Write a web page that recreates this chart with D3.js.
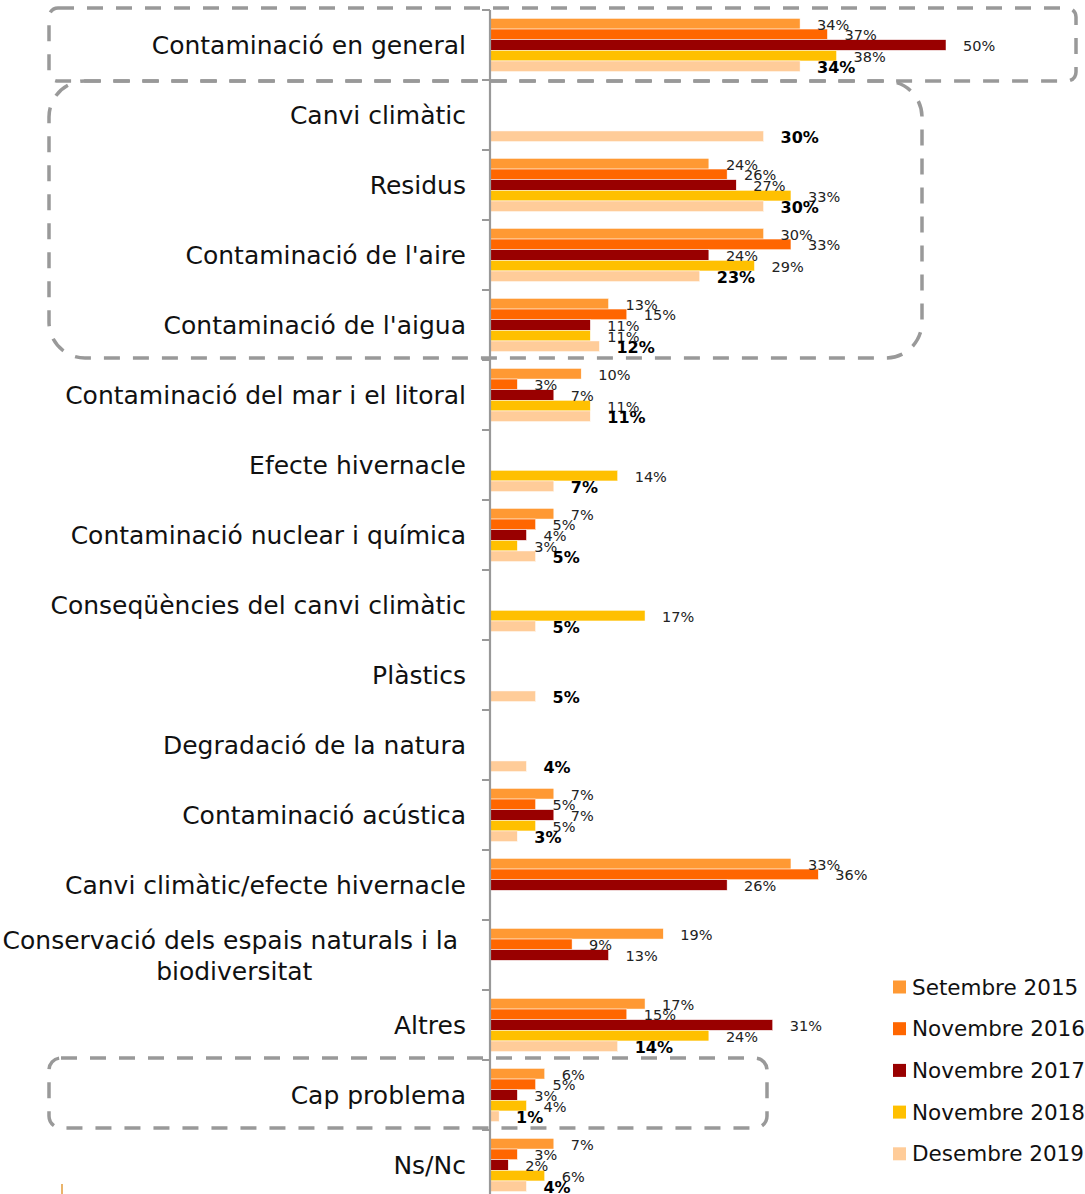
<!DOCTYPE html>
<html>
<head>
<meta charset="utf-8">
<script src="https://cdn.jsdelivr.net/npm/d3@7"></script>
<style>
  body { margin: 0; background: #fff; }
  svg { display: block; font-family: "DejaVu Sans", sans-serif; }
</style>
</head>
<body>
<div id="chart"></div>
<script>
// categories (top to bottom)
const categories = [
  "Contaminació en general",
  "Canvi climàtic",
  "Residus",
  "Contaminació de l'aire",
  "Contaminació de l'aigua",
  "Contaminació del mar i el litoral",
  "Efecte hivernacle",
  "Contaminació nuclear i química",
  "Conseqüències del canvi climàtic",
  "Plàstics",
  "Degradació de la natura",
  "Contaminació acústica",
  "Canvi climàtic/efecte hivernacle",
  "Conservació dels espais naturals i la biodiversitat",
  "Altres",
  "Cap problema",
  "Ns/Nc"
];

const seriesNames = ["Setembre 2015", "Novembre 2016", "Novembre 2017", "Novembre 2018", "Desembre 2019"];
const seriesColors = ["#FF9933", "#FF6600", "#990000", "#FFC000", "#FFCC99"];

// percentages, null = not asked that year
const set2015 = [34, null, 24, 30, 13, 10, null, 7, null, null, null, 7, 33, 19, 17, 6, 7];
const nov2016 = [37, null, 26, 33, 15, 3, null, 5, null, null, null, 5, 36, 9, 15, 5, 3];
const nov2017 = [50, null, 27, 24, 11, 7, null, 4, null, null, null, 7, 26, 13, 31, 3, 2];
const nov2018 = [38, null, 33, 29, 11, 11, 14, 3, 17, null, null, 5, null, null, 24, 4, 6];
const des2019 = [34, 30, 30, 23, 12, 11, 7, 5, 5, 5, 4, 3, null, null, 14, 1, 4];

const seriesValues = [set2015, nov2016, nov2017, nov2018, des2019];

const width = 1085, height = 1194;
const axisX = 490;

const svg = d3.select("#chart").append("svg")
  .attr("width", width)
  .attr("height", height)
  .style("overflow", "hidden");

const x = d3.scaleLinear().domain([0, 50]).range([axisX, axisX + 456]);

const y0 = d3.scaleBand()
  .domain(categories)
  .range([10, 1200])
  .paddingInner(0.24)
  .paddingOuter(0.12);

const y1 = d3.scaleBand()
  .domain(seriesNames)
  .range([0, y0.bandwidth()]);

// flatten into bar records
const bars = [];
categories.forEach((c, i) => {
  seriesNames.forEach((s, j) => {
    const v = seriesValues[j][i];
    if (v !== null) bars.push({ cat: c, series: s, idx: j, value: v });
  });
});

// bars
svg.append("g")
  .selectAll("rect")
  .data(bars)
  .join("rect")
  .attr("x", x(0))
  .attr("y", d => y0(d.cat) + y1(d.series))
  .attr("width", d => x(d.value) - x(0))
  .attr("height", y1.bandwidth())
  .attr("fill", d => seriesColors[d.idx])
  .attr("stroke", "#fff")
  .attr("stroke-width", 0.5);

// value labels (last survey in bold)
svg.append("g")
  .selectAll("text")
  .data(bars)
  .join("text")
  .attr("x", d => x(d.value) + 17)
  .attr("y", d => y0(d.cat) + y1(d.series) + y1.bandwidth() / 2 + 1)
  .attr("dy", "0.35em")
  .attr("font-size", d => d.idx === 4 ? 16 : 14.5)
  .attr("font-weight", d => d.idx === 4 ? "bold" : "normal")
  .attr("fill", d => d.idx === 4 ? "#000" : "#222")
  .text(d => d.value + "%");

// axis line + ticks at category boundaries
const step = y0.step();
const bounds = categories.map(c => y0(c) - step * 0.12);
bounds.push(bounds[bounds.length - 1] + step);

const axis = svg.append("g");
axis.append("line")
  .attr("x1", axisX).attr("x2", axisX)
  .attr("y1", bounds[0]).attr("y2", bounds[bounds.length - 1])
  .attr("stroke", "#999").attr("stroke-width", 2.2);
axis.selectAll("line.tick")
  .data(bounds)
  .join("line")
  .attr("class", "tick")
  .attr("x1", axisX - 8).attr("x2", axisX)
  .attr("y1", d => d).attr("y2", d => d)
  .attr("stroke", "#999").attr("stroke-width", 2);

// category labels
const labelRight = 466;
const labels = svg.append("g")
  .attr("font-size", 25)
  .attr("fill", "#111");

categories.forEach(c => {
  const cy = y0(c) + y0.bandwidth() / 2 + 0.5;
  if (c.startsWith("Conservació")) {
    const lines = ["Conservació dels espais naturals i la", "biodiversitat"];
    const t1 = labels.append("text")
      .attr("x", labelRight)
      .attr("y", cy - 15.5)
      .attr("dy", "0.35em")
      .attr("text-anchor", "end")
      .text(lines[0] + "\u00a0");
    const w1 = t1.node().getComputedTextLength();
    labels.append("text")
      .attr("x", labelRight - w1 / 2)
      .attr("y", cy + 15.5)
      .attr("dy", "0.35em")
      .attr("text-anchor", "middle")
      .text(lines[1]);
  } else {
    labels.append("text")
      .attr("x", labelRight)
      .attr("y", cy)
      .attr("dy", "0.35em")
      .attr("text-anchor", "end")
      .text(c);
  }
});

// legend
const legend = svg.append("g").attr("font-size", 21.5).attr("fill", "#111");
seriesNames.forEach((s, i) => {
  const ly = 987 + i * 41.7;
  legend.append("rect")
    .attr("x", 893).attr("y", ly - 6.5)
    .attr("width", 13).attr("height", 13)
    .attr("fill", seriesColors[i]);
  legend.append("text")
    .attr("x", 912).attr("y", ly)
    .attr("dy", "0.35em")
    .text(s);
});

// dashed highlight boxes
const boxes = svg.append("g")
  .attr("fill", "none")
  .attr("stroke", "#999")
  .attr("stroke-width", 3.5)
  .attr("stroke-dasharray", "16,13");

boxes.append("rect")
  .attr("x", 49).attr("y", 8).attr("width", 1027).attr("height", 73).attr("rx", 9);
boxes.append("rect")
  .attr("x", 49).attr("y", 81).attr("width", 873).attr("height", 277).attr("rx", 36);
boxes.append("rect")
  .attr("x", 49).attr("y", 1058).attr("width", 718).attr("height", 70).attr("rx", 12);

// small orange mark at the bottom left
svg.append("line")
  .attr("x1", 62).attr("x2", 62)
  .attr("y1", 1184).attr("y2", 1194)
  .attr("stroke", "#E39B3A").attr("stroke-width", 1.5);
</script>
</body>
</html>
